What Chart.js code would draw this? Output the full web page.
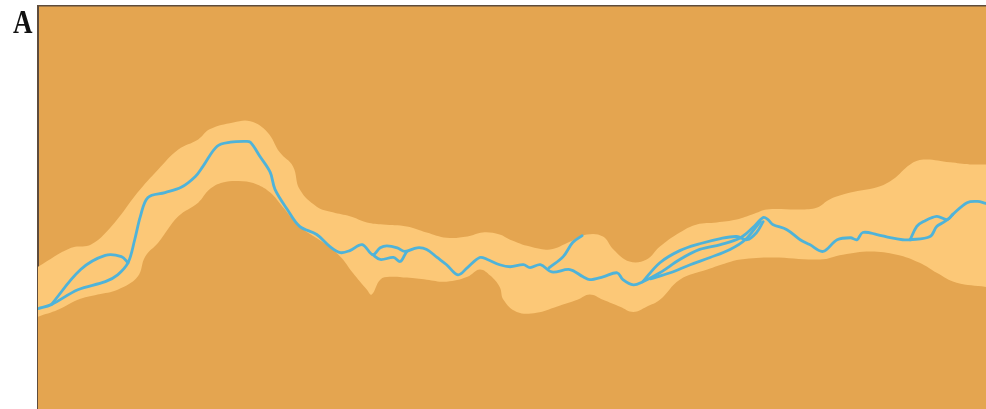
<!DOCTYPE html>
<html>
<head>
<meta charset="utf-8">
<script src="https://cdn.jsdelivr.net/npm/chart.js@4"></script>
<style>
  html, body { margin: 0; padding: 0; background: #ffffff; }
  #wrap { width: 986px; height: 409px; position: relative; }
</style>
</head>
<body>
<div id="wrap"><canvas id="c" width="986" height="409"></canvas></div>
<script>
// ---- data (x: 0-100 across, y: 0-100 up) ----
const bandUpper = [[0,35.3],[3.5,40.0],[5.6,40.8],[8.1,46.3],[10.5,53.7],[12.7,59.5],[14.8,64.4],[16.9,66.9],[18.1,69.4],[20.6,71.1],[22.4,71.4],[24.2,68.7],[25.5,63.7],[26.9,60.2],[27.6,54.5],[29.4,50.2],[31.1,48.8],[32.9,47.8],[34.7,46.3],[36.4,45.8],[38.9,45.3],[41.0,43.8],[43.1,42.5],[45.3,42.8],[46.9,43.8],[48.7,43.3],[49.8,42.0],[51.9,40.3],[54.0,39.6],[56.1,41.5],[57.9,43.3],[59.6,42.8],[60.7,39.6],[62.4,36.6],[64.2,37.1],[65.6,40.3],[67.7,43.8],[69.5,45.8],[71.6,46.3],[73.7,47.0],[75.4,48.3],[76.9,49.5],[80.4,49.5],[82.2,50.0],[83.5,52.0],[85.7,53.7],[88.5,55.0],[90.2,57.0],[92.0,60.7],[93.4,61.9],[96.2,61.2],[98.3,60.7],[100,60.7]];
const bandLower = [[0,22.9],[2.1,24.6],[4.2,27.1],[6.3,28.4],[8.4,29.6],[10.5,32.8],[11.3,37.8],[12.7,41.3],[14.8,47.8],[16.9,51.2],[18.1,54.5],[19.5,56.2],[21.6,56.5],[23.1,55.7],[24.5,53.7],[25.8,50.2],[27.6,45.3],[30.1,41.3],[31.9,37.8],[33.2,33.8],[34.7,29.6],[35.2,28.4],[36.1,32.1],[37.1,32.8],[38.9,32.6],[41.0,32.1],[43.1,31.6],[45.3,32.8],[46.6,34.6],[47.7,33.1],[48.7,30.3],[49.1,27.1],[50.5,24.1],[52.6,23.9],[54.7,25.4],[56.9,27.1],[58.2,28.4],[59.6,27.1],[61.4,25.4],[62.8,24.1],[64.2,25.4],[65.6,27.1],[67.7,32.1],[70.6,34.6],[72.7,36.3],[74.1,37.1],[77.5,37.6],[82.5,37.1],[84.9,38.3],[87.8,39.1],[90.6,38.3],[93.0,36.3],[94.8,33.8],[96.9,31.3],[100,30.3]];
const mainTrack = [[0,24.9],[1.4,25.9],[4.2,29.6],[7.1,31.6],[8.4,33.3],[9.5,36.3],[10.2,42.0],[10.8,47.8],[11.6,52.5],[13.4,53.7],[15.1,55.0],[16.6,57.7],[17.4,60.2],[18.9,65.2],[20.3,66.2],[21.8,66.4],[22.4,66.2],[23.4,62.7],[24.5,58.7],[25.0,54.5],[26.3,49.5],[27.6,45.3],[29.4,43.3],[30.8,40.3],[31.9,38.8],[32.9,39.3],[34.2,40.8],[35.3,38.3],[36.1,40.0],[36.8,40.5],[37.9,40.0],[38.7,39.1],[40.0,40.0],[41.0,39.6],[42.1,37.6],[43.1,35.8],[44.3,33.3],[45.3,35.1],[46.6,37.6],[47.4,37.1],[48.7,35.8],[49.8,35.3],[51.2,35.8],[51.9,35.1],[53.0,35.8],[54.2,34.0],[56.1,34.6],[57.5,32.8],[58.2,32.1],[59.6,32.8],[61.1,33.8],[61.7,32.1],[62.8,30.8],[63.8,31.6],[65.6,33.8],[67.7,37.1],[69.8,39.6],[72.0,40.8],[74.1,42.5],[75.4,45.0],[76.5,47.5],[77.0,47.0],[77.5,45.8],[79.0,44.5],[80.4,42.0],[81.4,40.8],[82.8,39.1],[84.3,42.0],[85.7,42.5],[86.4,42.0],[87.0,43.8],[88.5,43.3],[89.9,42.5],[91.2,42.0],[92.0,42.0],[94.1,42.8],[94.8,45.3],[95.5,46.3],[96.2,47.5],[96.5,48.3],[98.0,51.2],[99.1,51.5],[100,51.0]];
const startLoop = [[1.4,25.9],[4.5,34.6],[7.1,38.1],[8.8,37.8],[9.5,36.3]];
const midLoop = [[35.3,38.3],[36.1,37.1],[37.5,37.6],[38.2,36.6],[38.7,38.3],[38.9,39.1]];
const spur = [[53.9,35.0],[55.4,37.8],[56.4,41.3],[57.4,43.0]];
const strandB = [[63.8,31.6],[65.6,36.3],[67.7,39.3],[69.8,41.0],[72.0,42.3],[73.7,42.8],[74.8,42.0],[75.8,43.8],[76.5,46.5]];
const strandC = [[64.6,32.3],[66.7,33.8],[68.8,35.8],[70.9,37.6],[73.0,39.6],[74.6,42.0],[76.2,46.5]];
const endLoop = [[92.0,42.0],[92.7,45.3],[93.4,46.5],[94.8,47.8],[95.9,47.0],[96.5,48.3]];
const panelLabel = 'A';

// ---- styles ----
const BG = '#E4A550';
const BAND = '#FCC877';
const LINE = '#4FB3D9';
const AXIS = '#5E4C3C';

const toXY = arr => arr.map(p => ({x: p[0], y: p[1]}));
const lineDs = (arr) => ({
  data: toXY(arr), borderColor: LINE, borderWidth: 2.8, pointRadius: 0,
  tension: 0.35, fill: false, order: 0, borderCapStyle: 'round', borderJoinStyle: 'round'
});

const bgPlugin = {
  id: 'bg',
  beforeDraw(chart) {
    const {ctx, chartArea: a} = chart;
    ctx.save();
    ctx.fillStyle = BG;
    ctx.fillRect(a.left, a.top, a.right - a.left, a.bottom - a.top);
    ctx.restore();
  },
  afterDraw(chart) {
    const {ctx} = chart;
    ctx.save();
    ctx.fillStyle = '#111';
    ctx.font = 'bold 27px "Liberation Serif", "Times New Roman", serif';
    ctx.textBaseline = 'alphabetic';
    ctx.translate(13, 33);
    ctx.scale(1, 1.25);
    ctx.fillText(panelLabel, 0, 0);
    ctx.restore();
  }
};

new Chart(document.getElementById('c'), {
  type: 'line',
  data: {
    datasets: [
      lineDs(mainTrack),
      lineDs(startLoop), lineDs(midLoop), lineDs(spur), lineDs(strandB), lineDs(strandC), lineDs(endLoop),
      { data: toXY(bandLower), borderWidth: 0, borderColor: 'rgba(0,0,0,0)', pointRadius: 0, tension: 0.4,
        fill: 'start', backgroundColor: BG, order: 1 },
      { data: toXY(bandUpper), borderWidth: 0, borderColor: 'rgba(0,0,0,0)', pointRadius: 0, tension: 0.4,
        fill: 'start', backgroundColor: BAND, order: 2 }
    ]
  },
  options: {
    responsive: false,
    animation: false,
    layout: { padding: { left: 38, top: 6, right: 0, bottom: 0 } },
    plugins: { legend: { display: false }, tooltip: { enabled: false } },
    scales: {
      x: { type: 'linear', position: 'top', min: 0, max: 100,
           ticks: { display: false }, grid: { display: false, drawTicks: false },
           border: { display: true, color: AXIS, width: 1.5 } },
      y: { type: 'linear', min: 0, max: 100,
           ticks: { display: false }, grid: { display: false, drawTicks: false },
           border: { display: true, color: AXIS, width: 2 } }
    }
  },
  plugins: [bgPlugin]
});
</script>
</body>
</html>
